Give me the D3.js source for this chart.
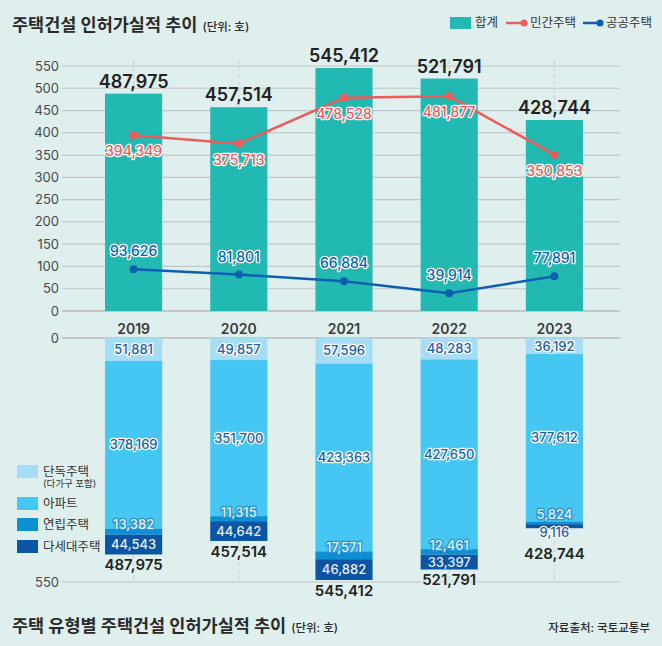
<!DOCTYPE html>
<html>
<head>
<meta charset="utf-8">
<script src="https://cdn.jsdelivr.net/npm/d3@7"></script>
<style>
  body { margin: 0; background: #dfefed; }
  svg { display: block; font-family: Inter, "Noto Sans CJK KR", sans-serif; }
  .halo { paint-order: stroke; stroke-linejoin: round; }
</style>
</head>
<body>
<script>
// data (units: 호)
var years = ["2019", "2020", "2021", "2022", "2023"];
var totals = [487975, 457514, 545412, 521791, 428744];
var privateHousing = [394349, 375713, 478528, 481877, 350853];
var publicHousing = [93626, 81801, 66884, 39914, 77891];
var detached = [51881, 49857, 57596, 48283, 36192];
var apartment = [378169, 351700, 423363, 427650, 377612];
var rowhouse = [13382, 11315, 17571, 12461, 5824];
var multiplex = [44543, 44642, 46882, 33397, 9116];
var yTicks = [0, 50, 100, 150, 200, 250, 300, 350, 400, 450, 500, 550];

var width = 662, height = 646;
var teal = "#21b9b1", red = "#ee5b58", blue = "#0b5fb3";
var typeColors = ["#a6dcf6", "#46c6f2", "#0b8fd5", "#0a55a6"];
var fmt = d3.format(",");

var svg = d3.select("body").append("svg")
    .attr("width", width)
    .attr("height", height);

svg.append("rect").attr("width", width).attr("height", height).attr("fill", "#dfefed");

var x = d3.scaleBand().domain(years).range([81, 607]).paddingInner(0.457).paddingOuter(0.2285);
var yTop = d3.scaleLinear().domain([0, 550]).range([311, 66]);
var yBot = d3.scaleLinear().domain([0, 550]).range([338, 582]);
var cx = function(d) { return x(d) + x.bandwidth() / 2; };

// ---------- top chart ----------
var grid = svg.append("g");
grid.selectAll("line.h")
    .data(yTicks)
    .enter().append("line")
    .attr("x1", 62).attr("x2", 620)
    .attr("y1", function(d) { return yTop(d); })
    .attr("y2", function(d) { return yTop(d); })
    .attr("stroke", "#c3c7c8")
    .attr("stroke-width", function(d) { return d == 0 ? 2 : 1.2; });

grid.selectAll("text")
    .data(yTicks)
    .enter().append("text")
    .attr("x", 59).attr("y", function(d) { return yTop(d); })
    .attr("dy", "0.35em")
    .attr("text-anchor", "end")
    .attr("font-size", 13)
    .attr("fill", "#4a4a4a")
    .text(function(d) { return d; });

// dashed center lines
grid.selectAll("line.v")
    .data(years)
    .enter().append("line")
    .attr("x1", cx).attr("x2", cx)
    .attr("y1", 60).attr("y2", 311)
    .attr("stroke", "#c9cfd0")
    .attr("stroke-dasharray", "4,3");

svg.append("g").selectAll("rect")
    .data(years)
    .enter().append("rect")
    .attr("x", function(d) { return x(d); })
    .attr("width", x.bandwidth())
    .attr("y", function(d, i) { return yTop(totals[i] / 1000); })
    .attr("height", function(d, i) { return yTop(0) - yTop(totals[i] / 1000); })
    .attr("fill", teal);

svg.append("g").selectAll("text")
    .data(years)
    .enter().append("text")
    .attr("x", cx)
    .attr("y", function(d, i) { return yTop(totals[i] / 1000) - 6; })
    .attr("text-anchor", "middle")
    .attr("font-size", 18)
    .attr("font-weight", 600)
    .attr("fill", "#222")
    .text(function(d, i) { return fmt(totals[i]); });

var line = d3.line()
    .x(function(d) { return cx(d.year); })
    .y(function(d) { return yTop(d.value / 1000); });

function drawSeries(values, color, labelDy) {
    var pts = years.map(function(y, i) { return { year: y, value: values[i] }; });
    var g = svg.append("g");
    g.append("path")
        .datum(pts)
        .attr("d", line)
        .attr("fill", "none")
        .attr("stroke", color)
        .attr("stroke-width", 2.5);
    g.selectAll("circle")
        .data(pts)
        .enter().append("circle")
        .attr("cx", function(d) { return cx(d.year); })
        .attr("cy", function(d) { return yTop(d.value / 1000); })
        .attr("r", 4)
        .attr("fill", color);
    g.selectAll("text")
        .data(pts)
        .enter().append("text")
        .attr("class", "halo")
        .attr("x", function(d) { return cx(d.year); })
        .attr("y", function(d) { return yTop(d.value / 1000) + labelDy; })
        .attr("text-anchor", "middle")
        .attr("font-size", 14)
        .attr("font-weight", 500)
        .attr("fill", color)
        .attr("stroke", "#fff")
        .attr("stroke-width", 2.5)
        .text(function(d) { return fmt(d.value); });
}
drawSeries(privateHousing, red, 21);
drawSeries(publicHousing, blue, -13);

// year labels
svg.append("g").selectAll("text")
    .data(years)
    .enter().append("text")
    .attr("x", cx)
    .attr("y", 329)
    .attr("dy", "0.35em")
    .attr("text-anchor", "middle")
    .attr("font-size", 14)
    .attr("font-weight", 600)
    .attr("fill", "#3a3a3a")
    .text(function(d) { return d; });

// ---------- bottom chart ----------
var bGrid = svg.append("g");
bGrid.selectAll("line.h")
    .data([0, 550])
    .enter().append("line")
    .attr("x1", 62).attr("x2", 620)
    .attr("y1", function(d) { return yBot(d); })
    .attr("y2", function(d) { return yBot(d); })
    .attr("stroke", "#c3c7c8")
    .attr("stroke-width", function(d) { return d == 0 ? 2 : 1.2; });
bGrid.selectAll("text")
    .data([0, 550])
    .enter().append("text")
    .attr("x", 59).attr("y", function(d) { return yBot(d); })
    .attr("dy", "0.35em")
    .attr("text-anchor", "end")
    .attr("font-size", 13)
    .attr("fill", "#4a4a4a")
    .text(function(d) { return d; });
bGrid.selectAll("line.v")
    .data(years)
    .enter().append("line")
    .attr("x1", cx).attr("x2", cx)
    .attr("y1", 338).attr("y2", 582)
    .attr("stroke", "#c9cfd0")
    .attr("stroke-dasharray", "4,3");

var typeSeries = [detached, apartment, rowhouse, multiplex];
var stacked = [];
years.forEach(function(y, i) {
    var acc = 0;
    typeSeries.forEach(function(s, k) {
        stacked.push({ year: y, i: i, k: k, value: s[i], y0: acc, y1: acc + s[i] });
        acc += s[i];
    });
});
function segH(d) { return yBot(d.y1 / 1000) - yBot(d.y0 / 1000); }
function thinLast(i) { return yBot(multiplex[i] / 1000) - yBot(0) < 10; }

svg.append("g").selectAll("rect")
    .data(stacked)
    .enter().append("rect")
    .attr("x", function(d) { return x(d.year); })
    .attr("width", x.bandwidth())
    .attr("y", function(d) { return yBot(d.y0 / 1000); })
    .attr("height", segH)
    .attr("fill", function(d) { return typeColors[d.k]; });

svg.append("g").selectAll("text")
    .data(stacked)
    .enter().append("text")
    .attr("class", "halo")
    .attr("x", function(d) { return cx(d.year); })
    .attr("y", function(d) {
        var top = yBot(d.y0 / 1000), bot = yBot(d.y1 / 1000);
        if (d.k == 2) return top - (thinLast(d.i) ? 7 : 4);
        if (d.k == 3 && bot - top < 10) return top + 8;
        return (top + bot) / 2;
    })
    .attr("dy", "0.35em")
    .attr("text-anchor", "middle")
    .attr("font-size", 13)
    .attr("font-weight", 500)
    .attr("fill", function(d) {
        if (d.k == 2) return "#dff4fd";
        if (d.k == 3 && segH(d) >= 10) return "#e6eef9";
        return "#1d5ea8";
    })
    .attr("stroke", function(d) {
        if (d.k == 2) return "#2c93d3";
        if (d.k == 3 && segH(d) >= 10) return "none";
        return "#fff";
    })
    .attr("stroke-width", 2.5)
    .text(function(d) { return fmt(d.value); });

// total under each stack; pushed lower when the last segment label hangs below
svg.append("g").selectAll("text")
    .data(years)
    .enter().append("text")
    .attr("class", "halo")
    .attr("x", cx)
    .attr("y", function(d, i) {
        return yBot(totals[i] / 1000) + (thinLast(i) ? 31 : 16);
    })
    .attr("text-anchor", "middle")
    .attr("font-size", 15)
    .attr("font-weight", 600)
    .attr("fill", "#222")
    .attr("stroke", "#dfefed")
    .attr("stroke-width", 3)
    .text(function(d, i) { return fmt(totals[i]); });

// ---------- legends ----------
var typeNames = ["단독주택", "아파트", "연립주택", "다세대주택"];
var legY = [465, 497, 518, 540];
var bl = svg.append("g");
bl.selectAll("rect")
    .data(typeNames)
    .enter().append("rect")
    .attr("x", 17).attr("width", 21)
    .attr("y", function(d, i) { return legY[i]; })
    .attr("height", 13)
    .attr("fill", function(d, i) { return typeColors[i]; });
bl.selectAll("text.name")
    .data(typeNames)
    .enter().append("text")
    .attr("x", 43)
    .attr("y", function(d, i) { return legY[i] + 6.5; })
    .attr("dy", "0.35em")
    .attr("font-size", 12.5)
    .attr("fill", "#333")
    .text(function(d) { return d; });
bl.append("text")
    .attr("x", 43).attr("y", 484).attr("dy", "0.35em")
    .attr("font-size", 9.5).attr("fill", "#333")
    .text("(다가구 포함)");

var tl = svg.append("g");
tl.append("rect").attr("x", 450).attr("y", 17).attr("width", 21).attr("height", 12).attr("fill", teal);
tl.append("text").attr("x", 475).attr("y", 23).attr("dy", "0.35em").attr("font-size", 12.5).attr("fill", "#333").text("합계");
tl.append("line").attr("x1", 506).attr("x2", 524).attr("y1", 23).attr("y2", 23).attr("stroke", red).attr("stroke-width", 2.5);
tl.append("circle").attr("cx", 524).attr("cy", 23).attr("r", 3.5).attr("fill", red);
tl.append("text").attr("x", 530).attr("y", 23).attr("dy", "0.35em").attr("font-size", 12.5).attr("fill", "#333").text("민간주택");
tl.append("line").attr("x1", 583).attr("x2", 600).attr("y1", 23).attr("y2", 23).attr("stroke", blue).attr("stroke-width", 2.5);
tl.append("circle").attr("cx", 600).attr("cy", 23).attr("r", 3.5).attr("fill", blue);
tl.append("text").attr("x", 606).attr("y", 23).attr("dy", "0.35em").attr("font-size", 12.5).attr("fill", "#333").text("공공주택");

// ---------- titles ----------
var t1 = svg.append("text").attr("x", 12).attr("y", 31).attr("fill", "#2a2a2a");
t1.append("tspan").attr("font-size", 17.5).attr("font-weight", 700).text("주택건설 인허가실적 추이");
t1.append("tspan").attr("font-size", 11.5).attr("font-weight", 500).attr("dx", 5).text("(단위: 호)");

var t2 = svg.append("text").attr("x", 12).attr("y", 632).attr("fill", "#2a2a2a");
t2.append("tspan").attr("font-size", 17.5).attr("font-weight", 700).text("주택 유형별 주택건설 인허가실적 추이");
t2.append("tspan").attr("font-size", 11.5).attr("font-weight", 500).attr("dx", 5).text("(단위: 호)");

svg.append("text")
    .attr("x", 650).attr("y", 632)
    .attr("text-anchor", "end")
    .attr("font-size", 11.5)
    .attr("font-weight", 500)
    .attr("fill", "#2a2a2a")
    .text("자료출처: 국토교통부");
</script>
</body>
</html>
